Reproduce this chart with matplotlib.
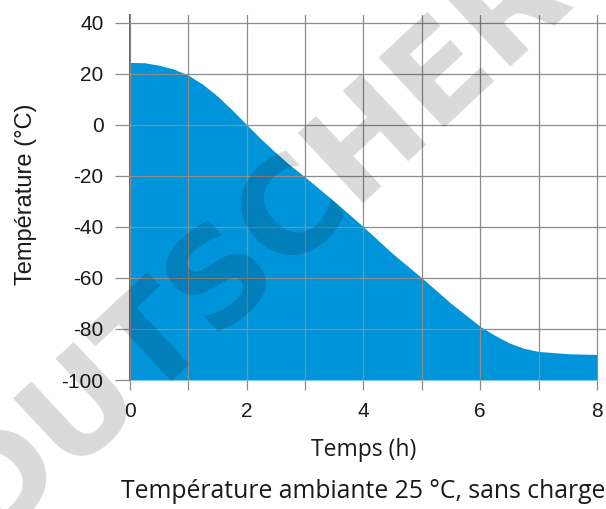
import numpy as np
import matplotlib
matplotlib.use("Agg")
import matplotlib.pyplot as plt

# temperature curve
temps_h = [0, 0.25, 0.5, 0.75, 1, 1.25, 1.5, 1.75, 2, 2.25, 2.5, 2.75, 3, 3.5,
           4, 4.5, 5, 5.5, 6, 6.25, 6.5, 6.75, 7, 7.5, 8]
temp_c = [24.4, 24.3, 23.3, 21.8, 19.4, 15.8, 11.2, 5.8, 0, -5.7, -11.0, -16.0,
          -20.5, -30.0, -40.0, -50.5, -60.0, -70.0, -79.0, -82.5, -85.5, -87.6,
          -88.8, -89.7, -90.0]

x_ticks = [0, 2, 4, 6, 8]
x_minor = [1, 3, 5, 7]
y_ticks = [-100, -80, -60, -40, -20, 0, 20, 40]

fill_col = "#0095da"
grid_col = "#8c8c8c"

fig = plt.figure(figsize=(6.06, 5.09), dpi=100)
ax = fig.add_axes([130 / 606, 1 - 380 / 509, 476 / 606, 365 / 509])

ax.fill_between(temps_h, temp_c, -100, color=fill_col, lw=0, zorder=1)

ax.set_xlim(0, 8.155)
ax.set_ylim(-100, 43)
ax.set_xticks(x_ticks)
ax.set_xticks(x_minor, minor=True)
ax.set_yticks(y_ticks)

ax.grid(True, which="both", axis="x", color=grid_col, lw=0.9, zorder=2)
ax.grid(True, which="major", axis="y", color=grid_col, lw=0.9, zorder=2)
ax.set_axisbelow(False)

for s in ["top", "right", "bottom"]:
    ax.spines[s].set_visible(False)
ax.spines["left"].set_color("#555555")
ax.spines["left"].set_linewidth(1.3)

tick_font = {"family": "Liberation Sans", "size": 15}
ax.tick_params(axis="x", which="both", direction="out", length=7.5, width=0.9,
               color=grid_col, pad=8)
ax.tick_params(axis="y", which="both", direction="out", length=11, width=0.9,
               color=grid_col, pad=8)
ax.set_xticklabels([str(v) for v in x_ticks], fontdict=tick_font, color="#1a1a1a")
ax.set_yticklabels([str(v) for v in y_ticks], fontdict=tick_font, color="#1a1a1a")

ax.set_ylabel("Température (°C)", family="Liberation Sans", size=17,
              color="#1a1a1a")
ax.yaxis.set_label_coords(-0.196, 0.51)

fig.text(364 / 606, 1 - 450 / 509, "Temps (h)", family="Open Sans", size=16.5,
         color="#1a1a1a", ha="center", va="center")
fig.text(363 / 606, 1 - 492 / 509, "Température ambiante 25 °C, sans charge",
         family="Open Sans", size=17.8, color="#1a1a1a", ha="center", va="center")

# watermark
fig.text(256 / 606, 1 - 243 / 509, "DUTSCHER", family="DejaVu Sans",
         weight="bold", size=95, color="black", alpha=0.15, rotation=43,
         ha="center", va="center", rotation_mode="anchor", zorder=10)

fig.savefig("out.png", dpi=100)
